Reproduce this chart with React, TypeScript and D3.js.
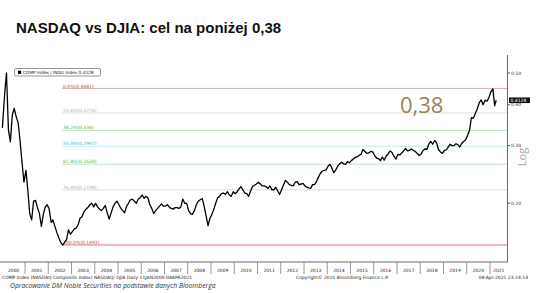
import React from "react";
import * as d3 from "d3";

const W = 536;
const H = 293;

// Monthly NASDAQ / DJIA ratio, Jan 2000 .. Apr 2021
const ratio: number[] = [
  0.340, 0.430, 0.500, 0.335, 0.308, 0.372, 0.390, 0.368, 0.352, 0.310, 0.266, 0.232,
  0.252, 0.218, 0.186, 0.178, 0.203, 0.204, 0.194, 0.186, 0.170, 0.185, 0.195, 0.198,
  0.192, 0.175, 0.178, 0.170, 0.163, 0.157, 0.152, 0.149, 0.152, 0.155, 0.166, 0.161,
  0.164, 0.167, 0.168, 0.172, 0.180, 0.182, 0.188, 0.192, 0.194, 0.198, 0.200, 0.195,
  0.200, 0.195, 0.192, 0.190, 0.193, 0.197, 0.187, 0.179, 0.187, 0.195, 0.200, 0.203,
  0.198, 0.193, 0.190, 0.187, 0.196, 0.200, 0.205, 0.206, 0.203, 0.200, 0.206, 0.208,
  0.212, 0.207, 0.210, 0.208, 0.198, 0.193, 0.186, 0.190, 0.193, 0.196, 0.199, 0.196,
  0.196, 0.198, 0.195, 0.193, 0.192, 0.194, 0.194, 0.193, 0.195, 0.206, 0.200, 0.200,
  0.190, 0.186, 0.185, 0.190, 0.198, 0.203, 0.205, 0.207, 0.196, 0.183, 0.171, 0.180,
  0.185, 0.192, 0.200, 0.208, 0.210, 0.214, 0.215, 0.213, 0.217, 0.212, 0.210, 0.217,
  0.214, 0.217, 0.221, 0.225, 0.220, 0.215, 0.214, 0.210, 0.218, 0.225, 0.227, 0.229,
  0.232, 0.229, 0.226, 0.226, 0.225, 0.222, 0.226, 0.220, 0.220, 0.224, 0.218, 0.213,
  0.220, 0.228, 0.235, 0.232, 0.228, 0.227, 0.226, 0.232, 0.233, 0.228, 0.229, 0.230,
  0.226, 0.224, 0.223, 0.222, 0.228, 0.228, 0.233, 0.240, 0.247, 0.251, 0.252, 0.253,
  0.260, 0.263, 0.256, 0.248, 0.253, 0.260, 0.264, 0.267, 0.264, 0.263, 0.268, 0.266,
  0.270, 0.273, 0.276, 0.277, 0.280, 0.282, 0.292, 0.288, 0.284, 0.285, 0.288, 0.287,
  0.280, 0.275, 0.274, 0.270, 0.277, 0.271, 0.279, 0.283, 0.289, 0.286, 0.278, 0.273,
  0.282, 0.281, 0.285, 0.289, 0.294, 0.289, 0.290, 0.293, 0.290, 0.288, 0.284, 0.280,
  0.283, 0.290, 0.293, 0.292, 0.303, 0.309, 0.303, 0.311, 0.306, 0.292, 0.287, 0.284,
  0.290, 0.291, 0.297, 0.303, 0.300, 0.300, 0.304, 0.302, 0.297, 0.305, 0.309, 0.313,
  0.322, 0.335, 0.365, 0.364, 0.376, 0.388, 0.405, 0.414, 0.400, 0.413, 0.410, 0.421,
  0.438, 0.447, 0.397, 0.4128,
];

const yearLabels: number[] = d3.range(2000, 2022);

const fibNames: string[] = ["0.0%", "23.6%", "38.2%", "50.0%", "61.8%", "76.4%", "100.0%"];
const fibValues: number[] = [0.4481, 0.3776, 0.334, 0.2987, 0.2634, 0.2198, 0.1493];
const fibLineColors: string[] = ["#dcaaaa", "#dddddd", "#bfe3bf", "#bde9f0", "#bfe3bf", "#dddddd", "#e2b4b4"];
const fibTextColors: string[] = ["#cc4444", "#aaaaaa", "#44bb44", "#33bbcc", "#44bb44", "#aaaaaa", "#cc4444"];

const yTicks: number[] = [0.2, 0.3, 0.4, 0.5];
const lastValue = 0.4128;

const dates: Date[] = d3
  .timeMonth.range(new Date(2000, 0, 1), new Date(2021, 4, 1))
  .map((m, i, arr) => {
    if (i === 0) return new Date(2000, 0, 11);
    if (i === arr.length - 1) return new Date(2021, 3, 8);
    return new Date(m.getFullYear(), m.getMonth(), 15);
  });

const PLOT_RIGHT = 507.5;
const AXIS_Y = 262;
const FIB_LEFT = 62;

export default function App() {
  const x = d3
    .scaleTime()
    .domain([new Date(2000, 0, 1), new Date(2021, 0, 1)])
    .range([1.75, 490]);
  const y = d3.scaleLog().domain([0.2, 0.5]).range([203.3, 73]);

  const data = dates.map((d, i) => ({ d, v: ratio[i] }));
  const line = d3
    .line<{ d: Date; v: number }>()
    .x((p) => x(p.d))
    .y((p) => y(p.v));

  const small = "DejaVu Sans, Verdana, sans-serif";

  return (
    <svg
      width={W}
      height={H}
      viewBox={`0 0 ${W} ${H}`}
      style={{ position: "absolute", left: 0, top: 0, background: "#fff" }}
    >
      <rect x={0} y={0} width={W} height={H} fill="#fff" />
      <text
        x={16}
        y={33}
        fontFamily="Liberation Sans, Arial, sans-serif"
        fontWeight="bold"
        fontSize={15}
        fill="#111"
      >
        NASDAQ vs DJIA: cel na poniżej 0,38
      </text>

      {/* Fibonacci levels */}
      {fibValues.map((v, i) => (
        <g key={fibNames[i]}>
          <line
            x1={FIB_LEFT}
            x2={PLOT_RIGHT}
            y1={y(v)}
            y2={y(v)}
            stroke={fibLineColors[i]}
            strokeWidth={i === 6 ? 1.6 : 1}
          />
          <text
            x={FIB_LEFT + 1}
            y={y(v) - 1}
            fontFamily={small}
            fontSize={4.5}
            fill={fibTextColors[i]}
          >
            {`${fibNames[i]}(${v.toFixed(4).replace(/0$/, i === 2 ? "" : "0")})`}
          </text>
        </g>
      ))}

      {/* Price ratio line */}
      <path d={line(data) ?? ""} fill="none" stroke="#000" strokeWidth={1.3} strokeLinejoin="round" />

      {/* Big annotation */}
      <text x={400} y={113} fontFamily="Open Sans, Noto Sans, sans-serif" fontSize={22} fill="#9e8257">
        0,38
      </text>

      {/* Legend */}
      <rect x={14.5} y={68.5} width={86} height={7.5} rx={1.5} fill="#fff" stroke="#555" strokeWidth={0.6} />
      <rect x={18} y={70.7} width={3.2} height={3.2} fill="#000" />
      <text x={23} y={73.9} fontFamily={small} fontSize={4.3} fill="#222">
        {`COMP Index / INDU Index  ${lastValue.toFixed(4)}`}
      </text>

      {/* Right axis */}
      <line x1={PLOT_RIGHT} x2={PLOT_RIGHT} y1={55} y2={AXIS_Y} stroke="#444" strokeWidth={0.8} />
      {yTicks.map((t) => (
        <g key={t}>
          <line x1={PLOT_RIGHT} x2={PLOT_RIGHT + 2.5} y1={y(t)} y2={y(t)} stroke="#333" strokeWidth={0.8} />
          <text x={PLOT_RIGHT + 3.5} y={y(t) + 1.6} fontFamily={small} fontSize={4.5} fill="#333">
            {t.toFixed(2)}
          </text>
        </g>
      ))}
      <rect x={509} y={y(lastValue) - 2.8} width={21} height={5.6} fill="#111" />
      <text x={510.5} y={y(lastValue) + 1.6} fontFamily={small} fontSize={4.5} fill="#fff">
        {lastValue.toFixed(4)}
      </text>
      <text
        transform={`translate(526,157) rotate(-90)`}
        textAnchor="middle"
        fontFamily="Open Sans, Noto Sans, sans-serif"
        fontSize={11}
        fill="#aaaaaa"
      >
        Log
      </text>

      {/* Bottom axis */}
      <line x1={0} x2={PLOT_RIGHT} y1={AXIS_Y} y2={AXIS_Y} stroke="#444" strokeWidth={0.8} />
      {yearLabels.map((yr) => {
        const x0 = x(new Date(yr, 0, 1));
        const x1 = yr === 2021 ? PLOT_RIGHT : x(new Date(yr + 1, 0, 1));
        return (
          <g key={yr}>
            {yr > 2000 && (
              <line x1={x0} x2={x0} y1={AXIS_Y} y2={AXIS_Y + 12} stroke="#555" strokeWidth={0.6} />
            )}
            <text x={(x0 + x1) / 2} y={272} textAnchor="middle" fontFamily={small} fontSize={4.5} fill="#222">
              {yr}
            </text>
          </g>
        );
      })}
      <text x={2} y={278.5} fontFamily={small} fontSize={4.5} fill="#222">
        COMP Index (NASDAQ Composite Index) NASDAQ/ DJIA  Daily 11JAN2000-08APR2021
      </text>
      <text x={296} y={278.5} fontFamily={small} fontSize={4.5} fill="#222">
        Copyright© 2021 Bloomberg Finance L.P.
      </text>
      <text x={528} y={278.5} textAnchor="end" fontFamily={small} fontSize={4.5} fill="#222">
        08-Apr-2021 23:24:14
      </text>
      <text
        x={10}
        y={288}
        fontFamily="Open Sans, Noto Sans, sans-serif"
        fontStyle="italic"
        fontSize={6.8}
        fill="#333"
      >
        Opracowanie DM Noble Securities na podstawie danych Bloomberga
      </text>
    </svg>
  );
}
